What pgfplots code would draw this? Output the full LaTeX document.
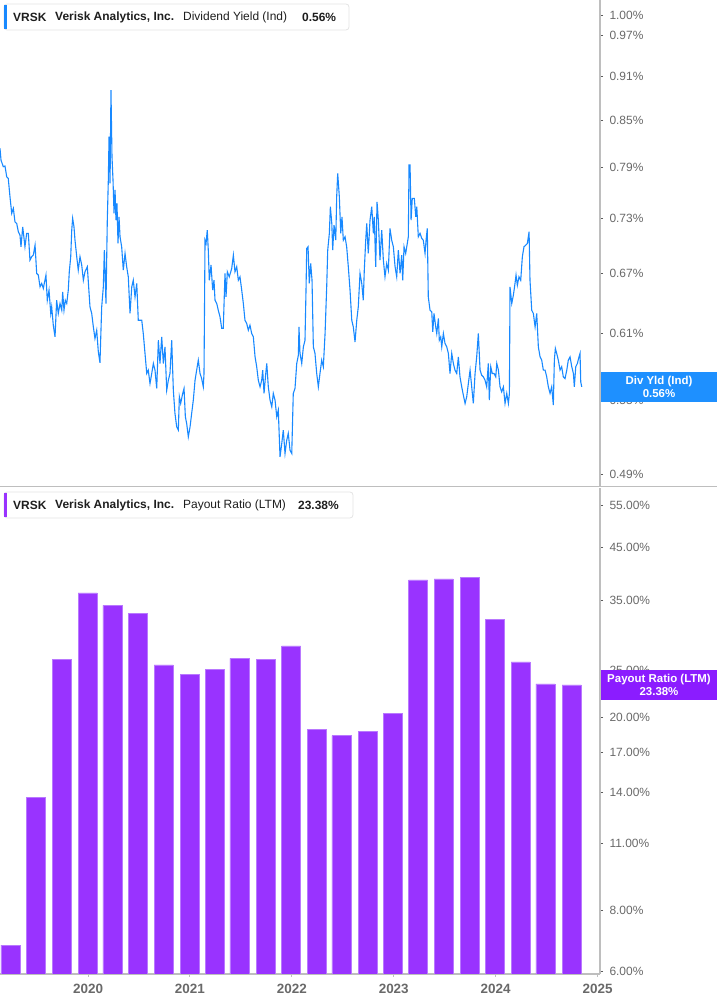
\documentclass[border=0pt]{standalone}
\usepackage{pgfplots}
\pgfplotsset{compat=1.18}
\usepackage{fontspec}
\setmainfont{Liberation Sans}
\definecolor{lineblue}{RGB}{24,137,255}
\definecolor{boxblue}{RGB}{30,144,255}
\definecolor{barpurple}{RGB}{153,51,255}
\definecolor{baredge}{RGB}{185,120,255}
\definecolor{boxpurple}{RGB}{139,28,255}
\definecolor{axisgray}{RGB}{190,190,190}
\definecolor{labgray}{RGB}{105,105,105}
\definecolor{tickdark}{RGB}{90,90,90}
\definecolor{legborder}{RGB}{228,228,228}
\definecolor{legtext}{RGB}{30,30,30}

\begin{document}
\begin{tikzpicture}
\path[use as bounding box] (0bp,0bp) rectangle (717bp,1005bp);

% dividend yield
\begin{axis}[scale only axis, anchor=south west, width=600bp,
  at={(0bp,518bp)}, height=487bp,
  xmin=2019.136, xmax=2025.024, ymode=log,
  ymin=0.4804, ymax=1.0247, axis x line=none, axis y line*=right,
  axis line style={axisgray, line width=1.5bp},
  tick align=outside, major tick length=3bp,
  y tick style={tickdark, line width=0.8bp},
  ytick={0.49,0.55,0.61,0.67,0.73,0.79,0.85,0.91,0.97,1.00},
  yticklabels={0.49\%,0.55\%,0.61\%,0.67\%,0.73\%,0.79\%,0.85\%,0.91\%,0.97\%,1.00\%},
  yticklabel style={font=\fontsize{12}{14}\selectfont, text=labgray, anchor=west, xshift=3bp},
]
\addplot[lineblue, line width=1.1bp] coordinates {
(2019.136,0.8136) (2019.146,0.7989) (2019.168,0.7907) (2019.185,0.7915) (2019.202,0.7784)
(2019.217,0.7765) (2019.234,0.7546) (2019.251,0.7353) (2019.267,0.7411) (2019.283,0.7257)
(2019.300,0.7239) (2019.316,0.7146) (2019.332,0.7109) (2019.342,0.6981) (2019.359,0.7201)
(2019.381,0.6981) (2019.398,0.7128) (2019.414,0.7128) (2019.430,0.6837) (2019.447,0.6873)
(2019.463,0.6891) (2019.480,0.6999) (2019.496,0.6697) (2019.512,0.6680) (2019.529,0.6559)
(2019.545,0.6594) (2019.561,0.6543) (2019.587,0.6680) (2019.600,0.6424) (2019.617,0.6526)
(2019.634,0.6293) (2019.643,0.6358) (2019.659,0.6179) (2019.676,0.6068) (2019.692,0.6424)
(2019.708,0.6293) (2019.725,0.6391) (2019.742,0.6325) (2019.751,0.6508) (2019.764,0.6325)
(2019.777,0.6424) (2019.791,0.6391) (2019.806,0.6526) (2019.816,0.6714) (2019.830,0.6873)
(2019.840,0.7165) (2019.849,0.7296) (2019.862,0.7201) (2019.872,0.7053) (2019.889,0.6873)
(2019.904,0.6732) (2019.921,0.6873) (2019.938,0.6785) (2019.954,0.6627) (2019.970,0.6714)
(2019.993,0.6767) (2020.007,0.6543) (2020.019,0.6358) (2020.036,0.6293) (2020.052,0.6163)
(2020.068,0.6052) (2020.085,0.6131) (2020.101,0.5928) (2020.117,0.5828) (2020.134,0.6358)
(2020.150,0.6559) (2020.160,0.6945) (2020.176,0.6391) (2020.189,0.7276) (2020.199,0.7744)
(2020.206,0.8284) (2020.216,0.7705) (2020.225,0.8908) (2020.235,0.8031) (2020.245,0.7744)
(2020.255,0.7353) (2020.265,0.7626) (2020.274,0.7276) (2020.284,0.7469) (2020.294,0.7017)
(2020.304,0.7314) (2020.314,0.7090) (2020.330,0.6981) (2020.346,0.6732) (2020.363,0.6909)
(2020.379,0.6767) (2020.395,0.6662) (2020.412,0.6293) (2020.429,0.6559) (2020.444,0.6627)
(2020.461,0.6457) (2020.478,0.6594) (2020.493,0.6227) (2020.510,0.6227) (2020.527,0.6227)
(2020.542,0.6100) (2020.559,0.5914) (2020.576,0.5732) (2020.591,0.5762) (2020.608,0.5643)
(2020.625,0.5732) (2020.641,0.5822) (2020.657,0.5762) (2020.674,0.5600) (2020.690,0.6036)
(2020.706,0.5822) (2020.723,0.6068) (2020.739,0.5822) (2020.755,0.5974) (2020.772,0.5585)
(2020.788,0.5672) (2020.804,0.5732) (2020.821,0.6036) (2020.837,0.5585) (2020.853,0.5387)
(2020.870,0.5275) (2020.886,0.5249) (2020.896,0.5528) (2020.909,0.5471) (2020.929,0.5557)
(2020.942,0.5600) (2020.955,0.5358) (2020.968,0.5303) (2020.984,0.5194) (2021.001,0.5275)
(2021.017,0.5387) (2021.033,0.5499) (2021.050,0.5672) (2021.066,0.5762) (2021.082,0.5852)
(2021.099,0.5732) (2021.115,0.5687) (2021.131,0.5614) (2021.138,0.5732) (2021.148,0.7053)
(2021.158,0.7017) (2021.170,0.7165) (2021.180,0.6945) (2021.190,0.6627) (2021.207,0.6785)
(2021.223,0.6526) (2021.236,0.6627) (2021.246,0.6424) (2021.263,0.6391) (2021.278,0.6325)
(2021.295,0.6260) (2021.312,0.6148) (2021.327,0.6148) (2021.344,0.6697) (2021.354,0.6457)
(2021.367,0.6714) (2021.386,0.6662) (2021.410,0.6750) (2021.426,0.6891) (2021.442,0.6714)
(2021.459,0.6767) (2021.475,0.6627) (2021.491,0.6662) (2021.508,0.6526) (2021.524,0.6391)
(2021.540,0.6227) (2021.557,0.6195) (2021.573,0.6131) (2021.589,0.6179) (2021.606,0.6100)
(2021.622,0.6068) (2021.639,0.5882) (2021.655,0.5792) (2021.671,0.5672) (2021.688,0.5614)
(2021.704,0.5672) (2021.714,0.5762) (2021.727,0.5557) (2021.744,0.5732) (2021.754,0.5822)
(2021.769,0.5614) (2021.786,0.5499) (2021.803,0.5442) (2021.818,0.5557) (2021.835,0.5499)
(2021.852,0.5358) (2021.867,0.5415) (2021.884,0.5034) (2021.901,0.5141) (2021.916,0.5249)
(2021.933,0.5061) (2021.950,0.5167) (2021.965,0.5222) (2021.982,0.5088) (2021.999,0.5061)
(2022.014,0.5557) (2022.031,0.5600) (2022.048,0.5822) (2022.064,0.5898) (2022.070,0.6163)
(2022.080,0.5914) (2022.097,0.5822) (2022.113,0.5974) (2022.129,0.6036) (2022.139,0.6526)
(2022.146,0.6963) (2022.159,0.6981) (2022.171,0.6594) (2022.185,0.6802) (2022.198,0.6627)
(2022.211,0.5974) (2022.227,0.5914) (2022.244,0.5732) (2022.260,0.5614) (2022.276,0.5732)
(2022.293,0.5852) (2022.309,0.5792) (2022.326,0.6100) (2022.342,0.6559) (2022.352,0.6945)
(2022.368,0.7128) (2022.378,0.7430) (2022.392,0.7239) (2022.401,0.6945) (2022.414,0.7220)
(2022.431,0.7053) (2022.440,0.7546) (2022.450,0.7826) (2022.466,0.7546) (2022.480,0.7128)
(2022.492,0.7314) (2022.505,0.7053) (2022.522,0.7090) (2022.538,0.6981) (2022.554,0.6767)
(2022.571,0.6526) (2022.588,0.6227) (2022.603,0.6163) (2022.620,0.6020) (2022.637,0.6227)
(2022.652,0.6358) (2022.669,0.6697) (2022.686,0.6594) (2022.701,0.6424) (2022.711,0.6732)
(2022.725,0.7053) (2022.735,0.7239) (2022.750,0.6909) (2022.767,0.7276) (2022.784,0.7430)
(2022.800,0.7128) (2022.809,0.7314) (2022.823,0.6767) (2022.836,0.7487) (2022.849,0.7276)
(2022.865,0.6837) (2022.882,0.7165) (2022.898,0.6837) (2022.914,0.6662) (2022.931,0.6802)
(2022.947,0.6732) (2022.963,0.7183) (2022.980,0.7053) (2022.996,0.6981) (2023.013,0.6767)
(2023.029,0.6662) (2023.045,0.6945) (2023.062,0.6697) (2023.078,0.6891) (2023.088,0.6627)
(2023.101,0.6981) (2023.117,0.6909) (2023.133,0.7017) (2023.143,0.7090) (2023.150,0.7928)
(2023.160,0.7928) (2023.170,0.7276) (2023.182,0.7527) (2023.202,0.7527) (2023.216,0.7314)
(2023.226,0.7430) (2023.241,0.7090) (2023.258,0.7128) (2023.275,0.7072) (2023.290,0.7053)
(2023.307,0.6909) (2023.317,0.7053) (2023.329,0.7183) (2023.339,0.6457) (2023.356,0.6325)
(2023.373,0.6308) (2023.383,0.6115) (2023.395,0.6293) (2023.412,0.6163) (2023.422,0.6100)
(2023.438,0.6244) (2023.447,0.6036) (2023.461,0.6068) (2023.471,0.5974) (2023.487,0.6100)
(2023.503,0.6006) (2023.520,0.5974) (2023.536,0.5914) (2023.552,0.5732) (2023.569,0.5914)
(2023.585,0.5822) (2023.601,0.5762) (2023.618,0.5732) (2023.634,0.5882) (2023.650,0.5702)
(2023.667,0.5614) (2023.683,0.5542) (2023.700,0.5471) (2023.716,0.5528) (2023.732,0.5643)
(2023.749,0.5762) (2023.765,0.5614) (2023.781,0.5471) (2023.798,0.5732) (2023.814,0.5882)
(2023.830,0.6100) (2023.847,0.5762) (2023.863,0.5717) (2023.879,0.5702) (2023.896,0.5672)
(2023.912,0.5614) (2023.928,0.5822) (2023.938,0.5499) (2023.952,0.5792) (2023.967,0.5732)
(2023.984,0.5732) (2024.001,0.5702) (2024.011,0.5822) (2024.027,0.5762) (2024.043,0.5614)
(2024.059,0.5571) (2024.076,0.5614) (2024.092,0.5471) (2024.109,0.5557) (2024.125,0.5471)
(2024.135,0.5557) (2024.141,0.6559) (2024.158,0.6391) (2024.174,0.6475) (2024.190,0.6594)
(2024.200,0.6680) (2024.213,0.6576) (2024.229,0.6662) (2024.246,0.6627) (2024.262,0.6873)
(2024.278,0.6981) (2024.295,0.6999) (2024.311,0.7017) (2024.328,0.7146) (2024.337,0.6627)
(2024.354,0.6325) (2024.370,0.6293) (2024.387,0.6163) (2024.403,0.6293) (2024.419,0.5974)
(2024.436,0.5882) (2024.452,0.5852) (2024.468,0.5762) (2024.485,0.5762) (2024.501,0.5702)
(2024.517,0.5614) (2024.534,0.5557) (2024.550,0.5614) (2024.566,0.5457) (2024.576,0.5852)
(2024.586,0.5960) (2024.599,0.5914) (2024.615,0.5852) (2024.632,0.5762) (2024.648,0.5792)
(2024.664,0.5702) (2024.681,0.5687) (2024.698,0.5762) (2024.713,0.5852) (2024.730,0.5882)
(2024.747,0.5792) (2024.763,0.5732) (2024.772,0.5614) (2024.786,0.5792) (2024.802,0.5822)
(2024.818,0.5882) (2024.828,0.5914) (2024.835,0.5657) (2024.845,0.5614)
};
\end{axis}
\draw[axisgray, line width=1bp] (0bp,518bp) -- (717bp,518bp);

% payout ratio
\begin{axis}[scale only axis, anchor=south west, width=600bp,
  at={(0bp,31bp)}, height=486bp,
  xmin=2019.136, xmax=2025.024, ymode=log,
  ymin=5.916, ymax=59.63, axis x line*=bottom, axis y line*=right,
  axis line style={axisgray, line width=1.5bp},
  tick align=outside, major tick length=3bp,
  y tick style={tickdark, line width=0.8bp},
  x tick style={axisgray, line width=1bp},
  ybar, bar width=0.1865,
  ytick={6,8,11,14,17,20,25,35,45,55},
  yticklabels={6.00\%,8.00\%,11.00\%,14.00\%,17.00\%,20.00\%,25.00\%,35.00\%,45.00\%,55.00\%},
  yticklabel style={font=\fontsize{12}{14}\selectfont, text=labgray, anchor=west, xshift=3bp},
  xtick={2020,2021,2022,2023,2024,2025},
  xticklabels={2020,2021,2022,2023,2024,2025},
  xticklabel style={font=\fontsize{13.5}{15}\selectfont\bfseries, text=labgray, yshift=-4bp},
]
\addplot[fill=barpurple, draw=baredge, line width=0.5bp] coordinates {
(2019.239,6.79) (2019.489,13.68) (2019.740,26.42) (2019.995,36.20) (2020.240,34.14)
(2020.490,32.80) (2020.741,25.71) (2020.996,24.60) (2021.241,25.19) (2021.486,26.54)
(2021.742,26.36) (2021.992,28.14) (2022.242,18.94) (2022.487,18.37) (2022.743,18.76)
(2022.993,20.43) (2023.238,38.51) (2023.489,38.69) (2023.744,39.00) (2023.989,31.95)
(2024.244,26.08) (2024.489,23.49) (2024.745,23.38)
};
\end{axis}

% value flags on the right
\fill[boxblue] (601bp,603bp) rectangle (717bp,633bp);
\node[text=white, font=\fontsize{11.5}{12.5}\selectfont\bfseries, align=center] at (659bp,618bp) {Div Yld (Ind)\\0.56\%};
\fill[boxpurple] (601bp,305bp) rectangle (717bp,335bp);
\node[text=white, font=\fontsize{11.5}{12.5}\selectfont\bfseries, align=center] at (659bp,320bp) {Payout Ratio (LTM)\\23.38\%};

% legends
\draw[legborder, fill=white, rounded corners=3bp, line width=0.8bp] (4bp,975bp) rectangle (349bp,1001bp);
\fill[lineblue] (4bp,976bp) rectangle (7bp,1000bp);
\begin{scope}[every node/.style={anchor=west, inner sep=0pt, text=legtext, font=\fontsize{12}{14}\selectfont}]
\node at (13bp,988bp) {\bfseries VRSK};
\node at (55bp,988bp) {\bfseries Verisk Analytics, Inc.};
\node at (183bp,988bp) {Dividend Yield (Ind)};
\node at (302bp,988bp) {\bfseries 0.56\%};
\end{scope}
\draw[legborder, fill=white, rounded corners=3bp, line width=0.8bp] (4bp,487bp) rectangle (353bp,513bp);
\fill[barpurple] (4bp,488bp) rectangle (7bp,512bp);
\begin{scope}[every node/.style={anchor=west, inner sep=0pt, text=legtext, font=\fontsize{12}{14}\selectfont}]
\node at (13bp,500bp) {\bfseries VRSK};
\node at (55bp,500bp) {\bfseries Verisk Analytics, Inc.};
\node at (183bp,500bp) {Payout Ratio (LTM)};
\node at (298bp,500bp) {\bfseries 23.38\%};
\end{scope}
\end{tikzpicture}
\end{document}
